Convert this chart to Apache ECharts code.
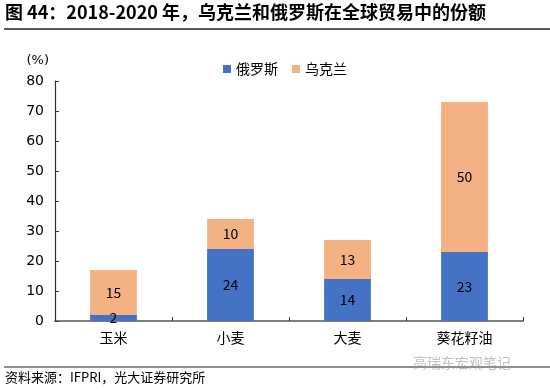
<!DOCTYPE html>
<html><head><meta charset="utf-8">
<script src="https://cdn.jsdelivr.net/npm/echarts@6/dist/echarts.min.js"></script>
<style>html,body{margin:0;padding:0;background:#fff}#c{width:550px;height:390px}</style>
</head><body><div id="c"></div>
<script>
const categories = ['玉米', '小麦', '大麦', '葵花籽油'];
const russia = [2, 24, 14, 23];
const ukraine = [15, 10, 13, 50];
const yTicks = { min: 0, max: 80, interval: 10 };
const titleText = '图 44：2018-2020 年，乌克兰和俄罗斯在全球贸易中的份额';
const sourceText = '资料来源：IFPRI，光大证券研究所';
const watermark = '高瑞东宏观笔记';
const FONT = '"Noto Sans CJK SC", "Noto Sans", sans-serif';

const chart = echarts.init(document.getElementById('c'), null, { renderer: 'canvas' });
const labelStyle = { show: true, position: 'inside', color: '#000', fontSize: 14, fontFamily: FONT };
chart.setOption({
  animation: false,
  textStyle: { fontFamily: FONT },
  grid: { left: 55, right: 27, top: 81, bottom: 69, containLabel: false },
  legend: {
    top: 57, left: 218, itemWidth: 8, itemHeight: 8, itemGap: 14,
    icon: 'rect',
    textStyle: { fontSize: 14, color: '#000', fontFamily: FONT },
    data: ['俄罗斯', '乌克兰']
  },
  xAxis: {
    type: 'category', data: categories,
    axisLine: { lineStyle: { color: '#555', width: 1.5 } },
    axisTick: { show: true, inside: true, length: 4, lineStyle: { color: '#333' } },
    axisLabel: { color: '#000', fontSize: 14, margin: 10, fontFamily: FONT }
  },
  yAxis: {
    type: 'value', min: yTicks.min, max: yTicks.max, interval: yTicks.interval,
    name: '(%)', nameLocation: 'end', nameGap: 14,
    nameTextStyle: { color: '#000', fontSize: 13, align: 'right', padding: [0, 6, 0, 0], fontFamily: 'Verdana, "DejaVu Sans", sans-serif' },
    axisLine: { show: true, lineStyle: { color: '#333', width: 1.2 } },
    axisTick: { show: true, inside: true, length: 4, lineStyle: { color: '#333' } },
    axisLabel: { color: '#000', fontSize: 14, margin: 11, fontFamily: 'Verdana, "DejaVu Sans", sans-serif' },
    splitLine: { show: false }
  },
  series: [
    { name: '俄罗斯', type: 'bar', stack: 's', data: russia, barWidth: '40%',
      itemStyle: { color: '#4472C4' }, label: labelStyle },
    { name: '乌克兰', type: 'bar', stack: 's', data: ukraine, barWidth: '40%',
      itemStyle: { color: '#F4B183' }, label: labelStyle }
  ],
  graphic: [
    { type: 'text', left: 5, top: 3, style: { text: titleText, font: 'bold 18px ' + FONT, fill: '#000' } },
    { type: 'line', shape: { x1: 4, y1: 29, x2: 550, y2: 29 }, style: { stroke: '#222', lineWidth: 1.5 } },
    { type: 'line', shape: { x1: 4, y1: 367, x2: 550, y2: 367 }, style: { stroke: '#222', lineWidth: 1 } },
    { type: 'text', left: 5, top: 371, style: { text: sourceText, font: '13px ' + FONT, fill: '#000' } },
    { type: 'text', left: 413, top: 356, style: { text: watermark, font: '14px ' + FONT, fill: 'rgba(150,150,150,0.6)' } }
  ]
});
</script></body></html>
